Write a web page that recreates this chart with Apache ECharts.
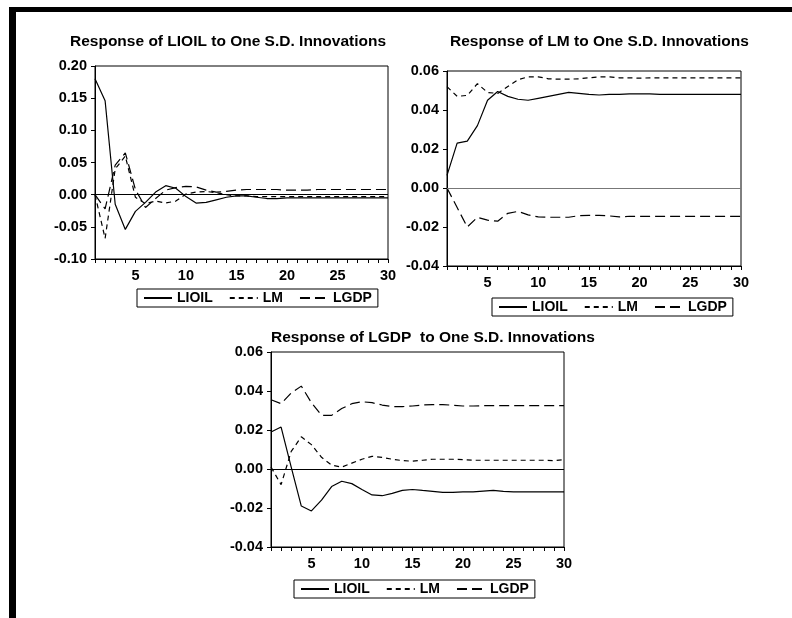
<!DOCTYPE html>
<html>
<head>
<meta charset="utf-8">
<script src="https://cdn.jsdelivr.net/npm/echarts@6/dist/echarts.min.js"></script>
<style>
html,body{margin:0;padding:0;background:#fff;}
#main{width:792px;height:618px;}
</style>
</head>
<body>
<div id="main"></div>
<script>
var periods = ['1','2','3','4','5','6','7','8','9','10','11','12','13','14','15','16','17','18','19','20','21','22','23','24','25','26','27','28','29','30'];
var seriesNames = ['LIOIL', 'LM', 'LGDP'];
var titles = ['Response of LIOIL to One S.D. Innovations', 'Response of LM to One S.D. Innovations', 'Response of LGDP  to One S.D. Innovations'];

// Response of LIOIL
var oil_LIOIL = [0.180, 0.146, -0.015, -0.054, -0.026, -0.012, 0.004, 0.014, 0.010, -0.003, -0.013, -0.012, -0.008, -0.004, -0.002, -0.002, -0.004, -0.006, -0.006, -0.005, -0.005, -0.005, -0.005, -0.005, -0.005, -0.005, -0.005, -0.005, -0.005, -0.005];
var oil_LM = [0.000, -0.068, 0.040, 0.060, -0.004, -0.014, -0.010, -0.013, -0.010, 0.001, 0.004, 0.005, 0.003, 0.000, -0.002, -0.002, -0.003, -0.003, -0.003, -0.003, -0.003, -0.003, -0.003, -0.003, -0.003, -0.003, -0.003, -0.003, -0.003, -0.003];
var oil_LGDP = [0.000, -0.022, 0.046, 0.065, 0.008, -0.020, -0.006, 0.007, 0.011, 0.013, 0.012, 0.007, 0.004, 0.005, 0.007, 0.008, 0.008, 0.008, 0.008, 0.007, 0.007, 0.007, 0.008, 0.008, 0.008, 0.008, 0.008, 0.008, 0.008, 0.008];

// Response of LM
var m_LIOIL = [0.0065, 0.023, 0.024, 0.032, 0.045, 0.0495, 0.047, 0.0455, 0.045, 0.046, 0.047, 0.048, 0.049, 0.0485, 0.048, 0.0477, 0.048, 0.048, 0.0483, 0.0483, 0.0483, 0.048, 0.048, 0.048, 0.048, 0.048, 0.048, 0.048, 0.048, 0.048];
var m_LM = [0.052, 0.047, 0.0475, 0.0535, 0.049, 0.0485, 0.052, 0.0555, 0.057, 0.057, 0.056, 0.0558, 0.0558, 0.056, 0.0565, 0.057, 0.057, 0.0565, 0.0565, 0.0563, 0.0565, 0.0565, 0.0565, 0.0565, 0.0565, 0.0565, 0.0565, 0.0565, 0.0565, 0.0565];
var m_LGDP = [0.000, -0.010, -0.020, -0.015, -0.0165, -0.017, -0.013, -0.012, -0.0138, -0.0148, -0.015, -0.015, -0.015, -0.0142, -0.014, -0.014, -0.0143, -0.0148, -0.0145, -0.0145, -0.0145, -0.0145, -0.0145, -0.0145, -0.0145, -0.0145, -0.0145, -0.0145, -0.0145, -0.0145];

// Response of LGDP
var g_LIOIL = [0.019, 0.0215, 0.001, -0.019, -0.0215, -0.016, -0.009, -0.0063, -0.0075, -0.0105, -0.0133, -0.0137, -0.0125, -0.011, -0.0105, -0.011, -0.0115, -0.012, -0.012, -0.0117, -0.0117, -0.0113, -0.011, -0.0115, -0.0117, -0.0117, -0.0117, -0.0117, -0.0117, -0.0117];
var g_LM = [0.001, -0.008, 0.009, 0.0165, 0.0125, 0.006, 0.002, 0.001, 0.003, 0.005, 0.0065, 0.006, 0.005, 0.0043, 0.004, 0.0045, 0.005, 0.005, 0.005, 0.0048, 0.0045, 0.0045, 0.0045, 0.0045, 0.0045, 0.0045, 0.0045, 0.0045, 0.0043, 0.0048];
var g_LGDP = [0.0355, 0.0335, 0.039, 0.0425, 0.034, 0.0275, 0.0275, 0.031, 0.0335, 0.0345, 0.034, 0.0328, 0.032, 0.032, 0.0323, 0.0328, 0.033, 0.033, 0.0327, 0.0323, 0.0323, 0.0325, 0.0325, 0.0325, 0.0325, 0.0325, 0.0325, 0.0325, 0.0325, 0.0325];

var yRanges = [[-0.10, 0.20, 0.05], [-0.04, 0.06, 0.02], [-0.04, 0.06, 0.02]];
var panelData = [[oil_LIOIL, oil_LM, oil_LGDP], [m_LIOIL, m_LM, m_LGDP], [g_LIOIL, g_LM, g_LGDP]];

var FONT = 'Liberation Sans, Arial, sans-serif';
var grids = [
  {left: 95, top: 66, width: 293, height: 193},
  {left: 447, top: 71, width: 294, height: 195},
  {left: 271, top: 352, width: 293, height: 195}
];
var titlePos = [{left: 70, top: 34}, {left: 450, top: 34}, {left: 271, top: 330}];
var legendPos = [{left: 137, top: 289}, {left: 492, top: 298}, {left: 294, top: 580}];
var zeroColor = ['#000', '#777', '#000'];
var dashTypes = ['solid', [5, 4], [10, 5]];

var option = {
  animation: false,
  backgroundColor: '#fff',
  title: [], grid: [], xAxis: [], yAxis: [], legend: [], series: [],
  graphic: [
    {type: 'rect', shape: {x: 9, y: 7, width: 783, height: 5}, style: {fill: '#000'}},
    {type: 'rect', shape: {x: 9, y: 7, width: 7, height: 611}, style: {fill: '#000'}}
  ]
};

for (var p = 0; p < 3; p++) {
  option.title.push({
    text: titles[p], left: titlePos[p].left, top: titlePos[p].top, padding: 0,
    textStyle: {fontFamily: FONT, fontSize: 15.5, fontWeight: 'bold', color: '#000'}
  });
  option.grid.push({
    left: grids[p].left, top: grids[p].top, width: grids[p].width, height: grids[p].height,
    show: true, borderColor: '#000', borderWidth: 1, backgroundColor: 'transparent'
  });
  option.xAxis.push({
    type: 'category', gridIndex: p, data: periods, boundaryGap: false,
    axisLine: {onZero: false, lineStyle: {color: '#000', width: 1}},
    axisTick: {show: true, interval: 0, length: 4, lineStyle: {color: '#000'}},
    axisLabel: {
      interval: function (i, v) { return (i + 1) % 5 === 0; },
      color: '#000', fontFamily: FONT, fontWeight: 'bold', fontSize: 14.5, margin: 9
    },
    splitLine: {show: false}
  });
  option.yAxis.push({
    type: 'value', gridIndex: p, min: yRanges[p][0], max: yRanges[p][1], interval: yRanges[p][2],
    axisLine: {show: true, lineStyle: {color: '#000', width: 1}},
    axisTick: {show: true, length: 4, lineStyle: {color: '#000'}},
    axisLabel: {
      formatter: function (v) { return v.toFixed(2); },
      color: '#000', fontFamily: FONT, fontWeight: 'bold', fontSize: 14.5, margin: 8
    },
    splitLine: {show: false}
  });
  option.legend.push({
    data: seriesNames, left: legendPos[p].left, top: legendPos[p].top,
    orient: 'horizontal', itemWidth: 28, itemHeight: 10, itemGap: 16,
    padding: [2, 6], borderColor: '#000', borderWidth: 1, borderRadius: 0,
    backgroundColor: '#fff', selectedMode: false,
    itemStyle: {opacity: 0},
    textStyle: {fontFamily: FONT, fontWeight: 'bold', fontSize: 14, color: '#000', lineHeight: 14}
  });
  for (var s = 0; s < 3; s++) {
    var ser = {
      name: seriesNames[s], type: 'line', xAxisIndex: p, yAxisIndex: p,
      data: panelData[p][s], symbol: 'none', showSymbol: false,
      lineStyle: {color: '#000', width: 1.2, type: dashTypes[s]},
      itemStyle: {color: '#000'},
      z: 3
    };
    if (s === 0) {
      ser.markLine = {
        silent: true, symbol: 'none', animation: false,
        label: {show: false},
        lineStyle: {color: zeroColor[p], width: 1, type: 'solid'},
        data: [{yAxis: 0}]
      };
    }
    option.series.push(ser);
  }
}

var chart = echarts.init(document.getElementById('main'), null, {renderer: 'canvas'});
chart.setOption(option);
</script>
</body>
</html>
